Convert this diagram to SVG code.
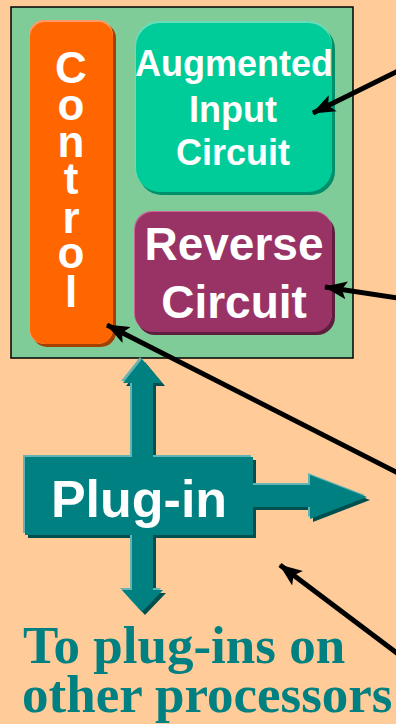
<svg xmlns="http://www.w3.org/2000/svg" width="396" height="724" viewBox="0 0 396 724">
<style>
.lbl{font-family:"Liberation Sans",Arial,sans-serif;font-weight:bold;fill:#FFFFFF;text-anchor:middle}
.conn{stroke:#000000;stroke-width:5;fill:none;marker-end:url(#ah)}
.bot{font-family:"Liberation Serif","Times New Roman",serif;font-weight:bold;fill:#008080;font-size:53px}
</style>
<defs>
<marker id="ah" markerWidth="24" markerHeight="20" refX="22" refY="10" orient="auto" markerUnits="userSpaceOnUse">
<path d="M0,1 L23,10 L0,19 L5,10 Z" fill="#000000"/>
</marker>
<polygon id="cross" points="142,359 162,383 153,383 153,457 253,457 253,485 310,485 310,475 367,497 310,519 310,507 253,507 253,535 153,535 153,590 163,590 142,612 122,590 132,590 132,535 25,535 25,457 132,457 132,383 123,383"/>
</defs>
<rect x="0" y="0" width="396" height="724" fill="#FFCC99"/>

<g id="processor">
<rect x="11" y="7" width="342" height="351" fill="#80CC99" stroke="#000000" stroke-width="1.5"/>
</g>

<g id="control">
<rect x="32" y="23" width="84" height="324" rx="15" fill="#A34200"/>
<rect x="29" y="20" width="84" height="324" rx="15" fill="#FF9966"/>
<rect x="30" y="22" width="83" height="322" rx="15" fill="#FF6600"/>
<text class="lbl" font-size="44"><tspan x="71" y="83">C</tspan><tspan x="71" y="120">o</tspan><tspan x="71" y="157">n</tspan><tspan x="71" y="194">t</tspan><tspan x="71" y="233">r</tspan><tspan x="71" y="268">o</tspan><tspan x="71" y="307">l</tspan></text>
</g>

<g id="augmented">
<rect x="138" y="25" width="197" height="170" rx="24" fill="#008F6B"/>
<rect x="135" y="21" width="197" height="170" rx="24" fill="#66DDBB"/>
<rect x="136" y="23" width="196" height="169" rx="24" fill="#00CC99"/>
<text class="lbl" font-size="36"><tspan x="234" y="76">Augmented</tspan><tspan x="233" y="122">Input</tspan><tspan x="233" y="165">Circuit</tspan></text>
</g>

<g id="reverse">
<rect x="137" y="215" width="198" height="120" rx="18" fill="#5E1F3F"/>
<rect x="134" y="211" width="198" height="120" rx="18" fill="#CC6699"/>
<rect x="135" y="212" width="197" height="120" rx="18" fill="#993366"/>
<text class="lbl" font-size="46"><tspan x="234" y="260">Reverse</tspan><tspan x="234" y="318">Circuit</tspan></text>
</g>

<g id="plugin">
<use href="#cross" transform="translate(3,3)" fill="#004F4F"/>
<use href="#cross" transform="translate(-2,-2)" fill="#66B3B3"/>
<use href="#cross" fill="#008080"/>
<text class="lbl" font-size="52" x="139" y="517">Plug-in</text>
</g>

<g id="caption">
<text class="bot" x="23" y="663">To plug-ins on</text>
<text class="bot" x="22" y="712">other processors</text>
</g>

<g id="connectors">
<line class="conn" x1="398" y1="71" x2="313" y2="113"/>
<line class="conn" x1="398" y1="298" x2="325" y2="287"/>
<line class="conn" x1="398" y1="473" x2="107" y2="325"/>
<line class="conn" x1="398" y1="654" x2="280" y2="565"/>
</g>
</svg>
